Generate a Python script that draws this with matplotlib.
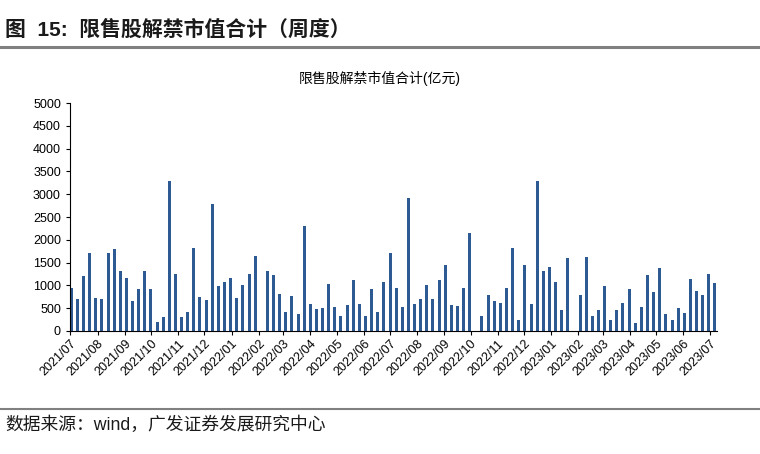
import matplotlib
matplotlib.use("Agg")
import matplotlib.pyplot as plt
import matplotlib.dates as mdates
import pandas as pd

plt.rcParams['font.family'] = ['Liberation Sans', 'Noto Sans CJK SC', 'DejaVu Sans']

# weekly unlock market value (亿元), 0 = holiday week without data
start_date = "2021-07-02"
values = [
    950, 700, 1200, 1700, 730, 700, 1700, 1800, 1320, 1160,
    660, 920, 1320, 910, 200, 300, 3290, 1260, 300, 410,
    1810, 745, 680, 2780, 980, 1080, 1160, 720, 1000, 1240,
    1650, 0,
    1320, 1230, 820, 410, 760, 370, 2300, 590, 490, 500,
    1030, 520, 320, 570, 1110, 600, 320, 910, 420, 1080,
    1700, 940, 520, 2910, 590, 700, 1010, 710, 1110, 1450,
    580, 540, 950, 2150, 0,
    330, 800, 650, 610, 950, 1810, 240, 1440, 600, 3280,
    1320, 1400, 1080, 470, 1590, 0,
    780, 1630, 330, 450, 990, 250, 450, 610, 910, 170,
    530, 1220, 850, 1390, 380, 240, 510, 400, 1140, 870,
    780, 1260, 1050,
]
dates = pd.date_range(start_date, periods=len(values), freq="7D")

title = "图  15:  限售股解禁市值合计（周度）"
chart_title = "限售股解禁市值合计(亿元)"
source = "数据来源：wind，广发证券发展研究中心"
bar_color = "#2E5A94"

fig = plt.figure(figsize=(7.6, 4.54), dpi=100)
ax = fig.add_axes([0.092, 0.271, 0.851, 0.502])

ax.bar(dates, values, width=3.4, color=bar_color)

ax.set_ylim(0, 5000)
ax.set_yticks(range(0, 5001, 500))
ax.set_xlim(pd.Timestamp("2021-06-30 12:00"), pd.Timestamp("2023-07-09"))
ax.xaxis.set_major_locator(mdates.MonthLocator())
ax.xaxis.set_major_formatter(mdates.DateFormatter("%Y/%m"))
plt.setp(ax.get_xticklabels(), rotation=45, ha="right", rotation_mode="anchor")

for side in ("top", "right"):
    ax.spines[side].set_visible(False)
ax.tick_params(axis="both", labelsize=9, direction="out", length=3, width=0.8)
ax.tick_params(axis="x", pad=2)

fig.text(0.5, 0.828, chart_title, fontsize=10, ha="center", va="center")

fig.text(0.007, 0.934, title, fontsize=15, fontweight="bold", va="center",
         color="#1a1a1a")
fig.add_artist(plt.Line2D([0, 1], [0.897, 0.897], color="#808080", lw=2.2,
                          transform=fig.transFigure))
fig.add_artist(plt.Line2D([0, 1], [0.1, 0.1], color="#808080", lw=1.5,
                          transform=fig.transFigure))
fig.text(0.007, 0.063, source, fontsize=12.8, va="center", color="#1a1a1a")

fig.savefig("out.png", dpi=100)
